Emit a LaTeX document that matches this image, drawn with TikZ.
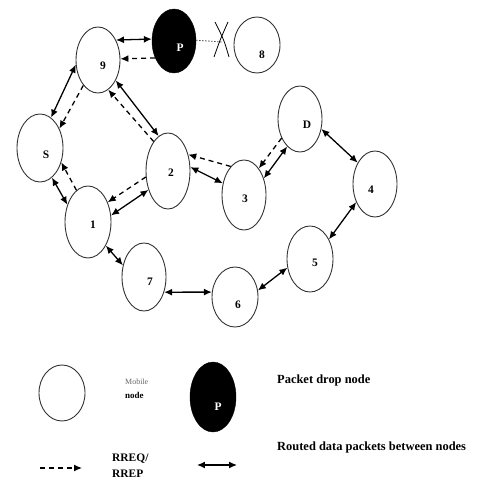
\documentclass[tikz,border=0pt]{standalone}
\usepackage{fontspec}
\setmainfont{Liberation Serif}
\usetikzlibrary{shapes.geometric,arrows.meta}
\tikzset{
  mnode/.style={draw=black!80,line width=0.9pt,ellipse,inner sep=0pt},
  pnode/.style={fill=black,draw=black,ellipse,inner sep=0pt},
  lbl/.style={font=\fontsize{11.5}{11.5}\selectfont\bfseries,inner sep=0pt},
  leg/.style={font=\fontsize{12.5}{12.5}\selectfont\bfseries,inner sep=0pt,anchor=west},
  dbl/.style={line width=1.3pt,{Latex[length=8pt,width=7pt]}-{Latex[length=8pt,width=7pt]}},
  dsh/.style={line width=1.3pt,dash pattern=on 5pt off 4pt,-{Latex[length=8pt,width=7pt]}},
}
\begin{document}
\begin{tikzpicture}[x=1bp,y=-1bp]
\useasboundingbox (0,0) rectangle (483,480);
% nodes
\node[mnode,minimum width=44bp,minimum height=66bp] (n9) at (98,60) {};
\node[pnode,minimum width=44bp,minimum height=64bp] (P) at (174,41) {};
\node[mnode,minimum width=46bp,minimum height=56bp] (n8) at (257,45) {};
\node[mnode,minimum width=44bp,minimum height=66bp] (D) at (300,119) {};
\node[mnode,minimum width=46bp,minimum height=68bp] (S) at (40,148) {};
\node[mnode,minimum width=44bp,minimum height=76bp] (n2) at (168,171) {};
\node[mnode,minimum width=44bp,minimum height=70bp] (n3) at (244,195) {};
\node[mnode,minimum width=44bp,minimum height=66bp] (n4) at (375,184) {};
\node[mnode,minimum width=46bp,minimum height=72bp] (n1) at (88,222) {};
\node[mnode,minimum width=44bp,minimum height=68bp] (n7) at (144,277) {};
\node[mnode,minimum width=46bp,minimum height=60bp] (n6) at (235,297) {};
\node[mnode,minimum width=46bp,minimum height=66bp] (n5) at (310,259) {};
% labels
\node[lbl] (t9) at (103,66) {9};
\node[lbl,text=white] (tP) at (180,48) {P};
\node[lbl] (t8) at (262,55) {8};
\node[lbl] (tD) at (307,125) {D};
\node[lbl] (tS) at (46,155) {S};
\node[lbl] (t2) at (171,173) {2};
\node[lbl] (t3) at (245,199) {3};
\node[lbl] (t4) at (371,190) {4};
\node[lbl] (t1) at (93,225) {1};
\node[lbl] (t7) at (150,282) {7};
\node[lbl] (t6) at (238,305) {6};
\node[lbl] (t5) at (315,263) {5};
% connectors
\draw[dbl] (n9.48) -- (P.175);
\draw[dsh] (P.222) -- (n9.3);
\coordinate (cx) at (222,42);
\draw[dash pattern=on 1.5pt off 1.5pt,line width=0.8pt,black!70] (P.2) -- (cx);
\draw[line width=0.8pt] (215,22) .. controls (224,40) .. (229,57);
\draw[line width=0.8pt] (228,22) .. controls (220,40) .. (214,57);
\draw[dbl] (n9.192) -- (S.70);
\draw[dsh] (n9.240) -- (S.45);
\draw[dbl] (n9.311) -- (n2.105);
\draw[dsh] (n2.116) -- (n9.289);
\draw[dbl] (n2.10) -- (n3.151);
\draw[dsh] (n3.115) -- (n2.39);
\draw[dsh] (D.226) -- (n3.61);
\draw[dbl] (D.245) -- (n3.40);
\draw[dbl] (D.335) -- (n4.129);
\draw[dbl] (n5.46) -- (n4.224);
\draw[dbl] (n6.16) -- (n5.201);
\draw[dbl] (n7.323) -- (n6.168);
\draw[dbl] (n1.307) -- (n7.151);
\draw[dbl] (S.292) -- (n1.140);
\draw[dsh] (n1.110) -- (S.326);
\draw[dbl] (n1.16) -- (n2.224);
\draw[dsh] (n2.195) -- (n1.45);
% legend
\node[mnode,minimum width=46bp,minimum height=56bp] (lm) at (62,393) {};
\node[font=\fontsize{8}{8}\selectfont,text=black!60,inner sep=0pt,anchor=west] (lmob) at (125,382) {Mobile};
\node[font=\fontsize{9}{9}\selectfont\bfseries,inner sep=0pt,anchor=west] (lnode) at (125,395) {node};
\node[pnode,minimum width=46bp,minimum height=70bp] (lp) at (213,397) {};
\node[lbl,text=white] (lpt) at (218,407) {P};
\node[leg] (lpd) at (277,381) {Packet drop node};
\node[leg] (lrd) at (277,447) {Routed data packets between nodes};
\coordinate (da) at (40,468);
\coordinate (db) at (82,468);
\draw[dsh] (da) -- (db);
\node[leg,font=\fontsize{11.5}{11.5}\selectfont\bfseries] (lrq) at (112,459) {RREQ/};
\node[leg,font=\fontsize{11.5}{11.5}\selectfont\bfseries] (lrp) at (112,473.5) {RREP};
\coordinate (ea) at (197,465);
\coordinate (eb) at (237,465);
\draw[dbl] (ea) -- (eb);
\end{tikzpicture}
\end{document}
